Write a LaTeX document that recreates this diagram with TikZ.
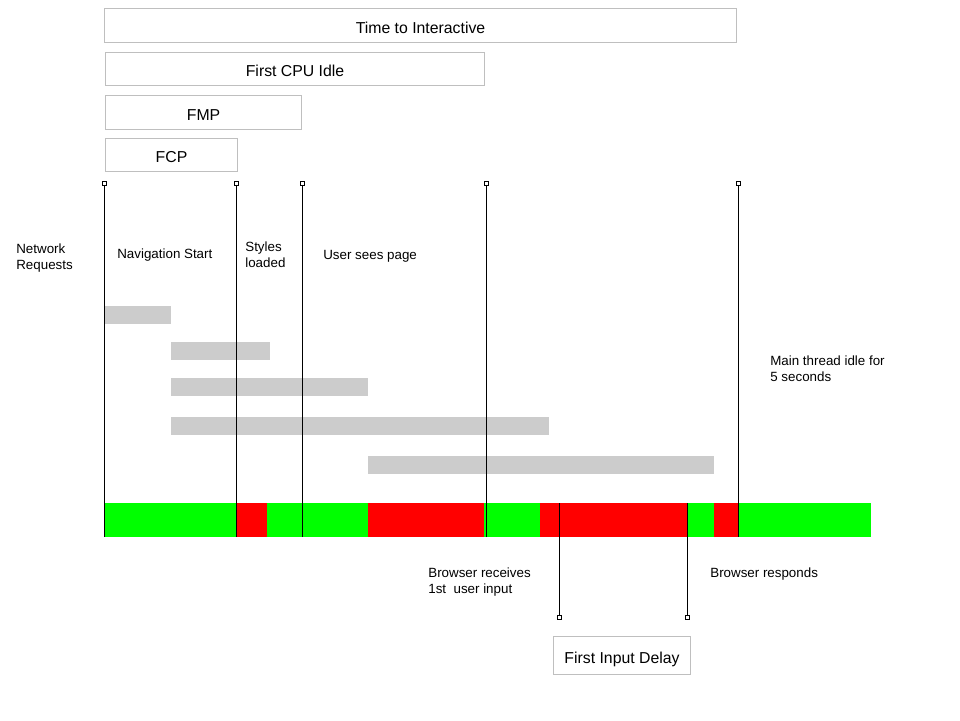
\documentclass[tikz,border=0pt]{standalone}
\usepackage{fontspec}
\setmainfont{Liberation Sans}
\definecolor{idle}{RGB}{0,255,0}
\definecolor{busy}{RGB}{255,0,0}
\definecolor{request}{RGB}{204,204,204}
\begin{document}
\begin{tikzpicture}[x=0.02cm, y=-0.02cm,
    metric/.style={draw=black!25, line width=0.6pt, inner sep=0pt, anchor=north west,
      text height=8.6pt, text depth=0pt, font=\fontsize{9}{11}\selectfont},
    note/.style={anchor=west, align=left, inner sep=0pt, font=\fontsize{7.6}{9.1}\selectfont},
    tick/.style={draw=black, fill=white, line width=0.45pt, inner sep=0pt, minimum size=0.08cm},
    mark line/.style={draw=black, line width=0.5pt}]
    \def \px {0.02cm}
    \def \bartop {503}
    \def \barbot {537}
    \useasboundingbox (0,0) rectangle (960,720);
    % metrics
    \node[metric, minimum width=632*\px, minimum height=34*\px] (tti) at (104,8) {Time to Interactive};
    \node[metric, minimum width=379*\px, minimum height=33*\px] (fci) at (105,52) {First CPU Idle};
    \node[metric, minimum width=196*\px, minimum height=34*\px] (fmp) at (105,95) {FMP};
    \node[metric, minimum width=132*\px, minimum height=33*\px] (fcp) at (105,138) {FCP};
    \node[metric, minimum width=137*\px, minimum height=38*\px] (fid) at (553,636) {First Input Delay};
    % network requests
    \foreach \a/\b/\y in {104/171/306, 171/270/342, 171/368/378, 171/549/417, 368/714/456}
      \fill[request] (\a,\y) rectangle (\b,\y+18);
    % main thread
    \foreach \a/\b/\c in {105/236/idle, 236/267/busy, 267/368/idle, 368/484/busy, 484/540/idle,
        540/687/busy, 687/714/idle, 714/739/busy, 739/871/idle}
      \fill[\c] (\a,\bartop) rectangle (\b,\barbot);
    \coordinate (top) at (0,\bartop);
    \coordinate (bottom) at (0,\barbot);
    % markers
    \foreach \s/\x in {1/104, 2/236, 3/302, 4/486, 5/738}
    {
      \node[tick] (m\s) at (\x,183) {};
      \draw[mark line] (m\s.south) -- (m\s |- bottom);
    }
    \foreach \s/\x in {1/559, 2/687}
    {
      \node[tick] (d\s) at (\x,617) {};
      \draw[mark line] (d\s |- top) -- (d\s.north);
    }
    % notes
    \node[note] (net) at (16,258) {Network\\Requests};
    \node[note] (nav) at (117,255) {Navigation Start};
    \node[note] (sty) at (245,255) {Styles\\loaded};
    \node[note] (usp) at (323,256) {User sees page};
    \node[note] (idl) at (770,369) {Main thread idle for\\5 seconds};
    \node[note] (rcv) at (428,582) {Browser receives\\1st~ user input};
    \node[note] (rsp) at (710,574) {Browser responds};
\end{tikzpicture}
\end{document}
